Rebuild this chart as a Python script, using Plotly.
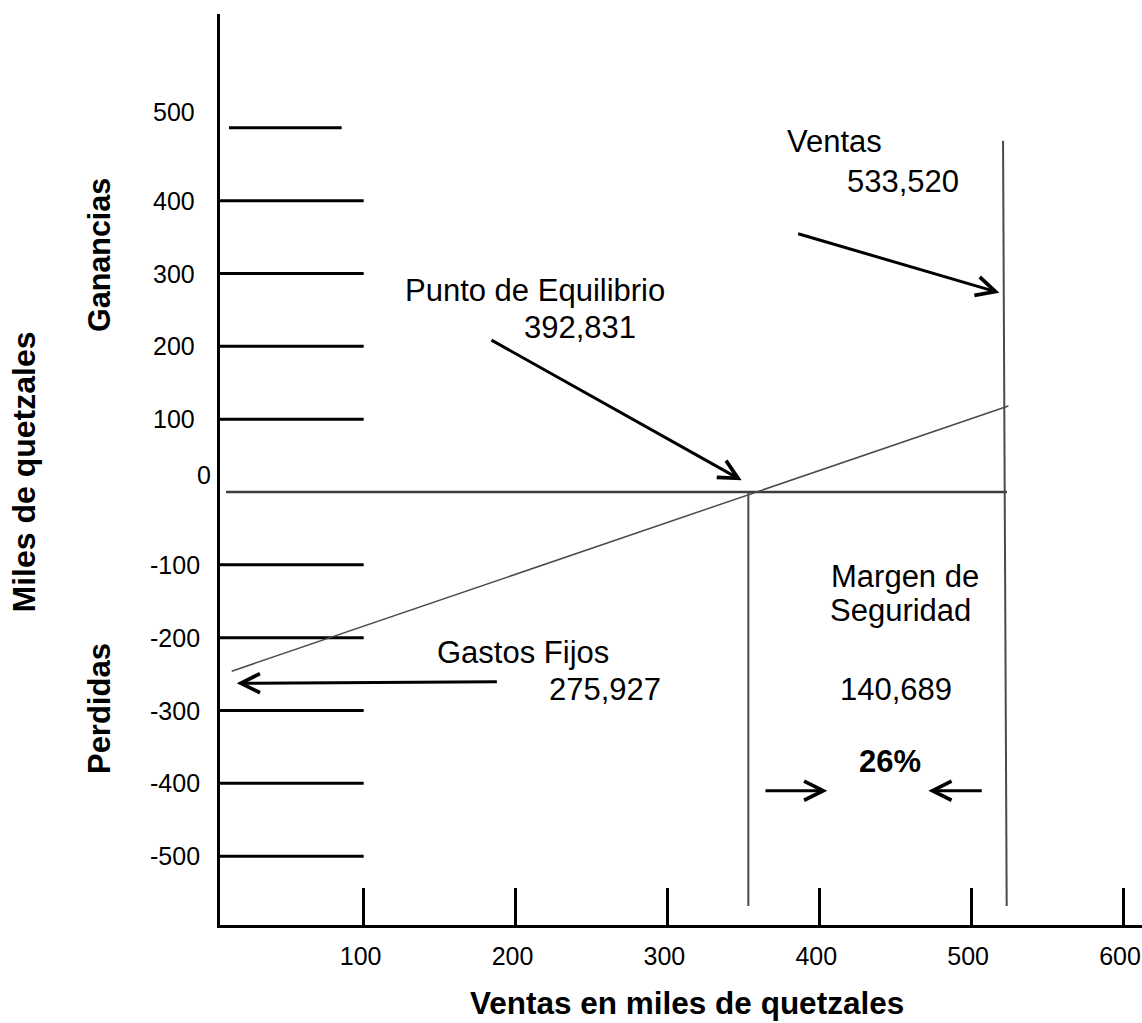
import plotly.graph_objects as go

# ---------------- data (thousands of quetzales) ----------------
Y_TICK_VALUES = [500, 400, 300, 200, 100, 0, -100, -200, -300, -400, -500]
X_TICK_VALUES = [100, 200, 300, 400, 500, 600]

SALES = 533520
BREAK_EVEN = 392831
FIXED_COSTS = 275927
SAFETY_MARGIN = 140689
SAFETY_PCT = 26

# hand-drawn geometry (axis units)
TICK_SEGMENT_X = [5.4, 100]
TOP_SEGMENT_X = [11.3, 85.5]
ZERO_LINE_X = [9.4, 523.6]
PROFIT_LINE_X = [13.1, 524.5]
PROFIT_LINE_Y = [-246, 118]
BREAK_EVEN_LINE_X = [353.3, 353.3]
BREAK_EVEN_LINE_Y = [0, -568.4]
SALES_LINE_X = [521.0, 523.4]
SALES_LINE_Y = [482.4, -568.4]

# arrows: (tail x, tail y, head x, head y)
ARROWS = [
    (385.1, 355.2, 518.6, 273.6),
    (183.2, 209.7, 348.9, 16.0),
    (188.7, -260.5, 16.4, -262.7),
    (363.6, -410.1, 405.3, -410.1),
    (508.0, -410.1, 471.8, -410.1),
]

# text labels: (text, x, y, bold)
LABELS = [
    ("Ventas", 410.3, 481.0, False),
    (f"{SALES:,}", 455.0, 427.0, False),
    ("Punto de Equilibrio", 212.6, 276.0, False),
    (f"{BREAK_EVEN:,}", 242.5, 225.2, False),
    ("Gastos Fijos", 205.1, -220.4, False),
    (f"{FIXED_COSTS:,}", 258.9, -270.5, False),
    ("Margen de", 456.5, -116.3, False),
    ("Seguridad", 453.8, -162.7, False),
    (f"{SAFETY_MARGIN:,}", 450.2, -270.5, False),
    (f"{SAFETY_PCT}%", 446.3, -369.4, True),
]

X_TITLE = "Ventas en miles de quetzales"
Y_TITLE = "Miles de quetzales"
UPPER_TITLE = "Ganancias"
LOWER_TITLE = "Perdidas"

# ---------------- styling ----------------
FONT = "Liberation Sans, Arial, sans-serif"
BLACK = "#000000"
GREY = "#4a4a4a"
X_RANGE = [5.4, 612.5]
Y_RANGE = [-594.5, 656.3]
Y_LABEL_NUDGE = {500: (0, 16), 0: (16, 17)}   # (x px, y px) hand-drawn offsets

fig = go.Figure()

# horizontal marks on the vertical axis
seg_x, seg_y = [], []
for v in Y_TICK_VALUES:
    if v == 0:
        continue
    xs = TOP_SEGMENT_X if v == max(Y_TICK_VALUES) else TICK_SEGMENT_X
    seg_x += [xs[0], xs[1], None]
    seg_y += [v, v, None]
fig.add_trace(go.Scatter(x=seg_x, y=seg_y, mode="lines",
                         line=dict(color=BLACK, width=3), hoverinfo="skip"))

# zero line
fig.add_trace(go.Scatter(x=ZERO_LINE_X, y=[0, 0], mode="lines",
                         line=dict(color="#3c3c3c", width=2.4), hoverinfo="skip"))
# profit line
fig.add_trace(go.Scatter(x=PROFIT_LINE_X, y=PROFIT_LINE_Y, mode="lines",
                         line=dict(color=GREY, width=1.5), hoverinfo="skip"))
# break-even vertical
fig.add_trace(go.Scatter(x=BREAK_EVEN_LINE_X, y=BREAK_EVEN_LINE_Y, mode="lines",
                         line=dict(color=GREY, width=2), hoverinfo="skip"))
# sales vertical
fig.add_trace(go.Scatter(x=SALES_LINE_X, y=SALES_LINE_Y, mode="lines",
                         line=dict(color=GREY, width=2), hoverinfo="skip"))

annotations = []
for tx, ty, hx, hy in ARROWS:
    annotations.append(dict(
        x=hx, y=hy, ax=tx, ay=ty, xref="x", yref="y", axref="x", ayref="y",
        text="", showarrow=True, arrowhead=5, arrowsize=1.25, arrowwidth=3,
        arrowcolor=BLACK, standoff=0))

for text, x, y, bold in LABELS:
    annotations.append(dict(
        x=x, y=y, xref="x", yref="y", showarrow=False,
        text=f"<b>{text}</b>" if bold else text,
        font=dict(family=FONT, size=31, color=BLACK),
        xanchor="center", yanchor="middle"))

# y tick labels (left of the vertical axis)
for v in Y_TICK_VALUES:
    dx, dy = Y_LABEL_NUDGE.get(v, (5 if v < 0 else 0, 0))
    annotations.append(dict(
        x=0, y=v, xref="paper", yref="y", showarrow=False, text=str(v),
        font=dict(family=FONT, size=25, color=BLACK),
        xanchor="right", yanchor="middle", xshift=-23 + dx, yshift=dy))

# axis titles
annotations.append(dict(x=312.9, y=0, xref="x", yref="paper", showarrow=False,
                        text=f"<b>{X_TITLE}</b>", yshift=-78,
                        font=dict(family=FONT, size=31.5, color=BLACK),
                        xanchor="center", yanchor="middle"))
annotations.append(dict(x=0, y=26.8, xref="paper", yref="y", showarrow=False,
                        text=f"<b>{Y_TITLE}</b>", textangle=-90, xshift=-196,
                        font=dict(family=FONT, size=32, color=BLACK),
                        xanchor="center", yanchor="middle"))
annotations.append(dict(x=0, y=325.4, xref="paper", yref="y", showarrow=False,
                        text=f"<b>{UPPER_TITLE}</b>", textangle=-90, xshift=-121,
                        font=dict(family=FONT, size=30.5, color=BLACK),
                        xanchor="center", yanchor="middle"))
annotations.append(dict(x=0, y=-298.0, xref="paper", yref="y", showarrow=False,
                        text=f"<b>{LOWER_TITLE}</b>", textangle=-90, xshift=-121,
                        font=dict(family=FONT, size=31, color=BLACK),
                        xanchor="center", yanchor="middle"))

fig.update_layout(
    width=1142, height=1023,
    margin=dict(l=220, r=0, t=14, b=98, pad=0),
    paper_bgcolor="white", plot_bgcolor="white",
    showlegend=False,
    annotations=annotations,
    xaxis=dict(range=X_RANGE, showgrid=False, zeroline=False,
               showline=True, linecolor=BLACK, linewidth=3,
               ticks="inside", ticklen=37, tickwidth=3, tickcolor=BLACK,
               tickvals=X_TICK_VALUES, ticktext=[str(v) for v in X_TICK_VALUES],
               tickfont=dict(family=FONT, size=25, color=BLACK),
               ticklabelstandoff=7, ticklabelshift=-3,
               ticklabeloverflow="allow",
               fixedrange=True),
    yaxis=dict(range=Y_RANGE, showgrid=False, zeroline=False,
               showline=True, linecolor=BLACK, linewidth=3,
               ticks="", showticklabels=False, fixedrange=True),
)

fig.write_html(
    "out.html",
    config={"displayModeBar": False},
    post_script="document.body.style.margin='0px';document.body.style.overflow='hidden';",
)
